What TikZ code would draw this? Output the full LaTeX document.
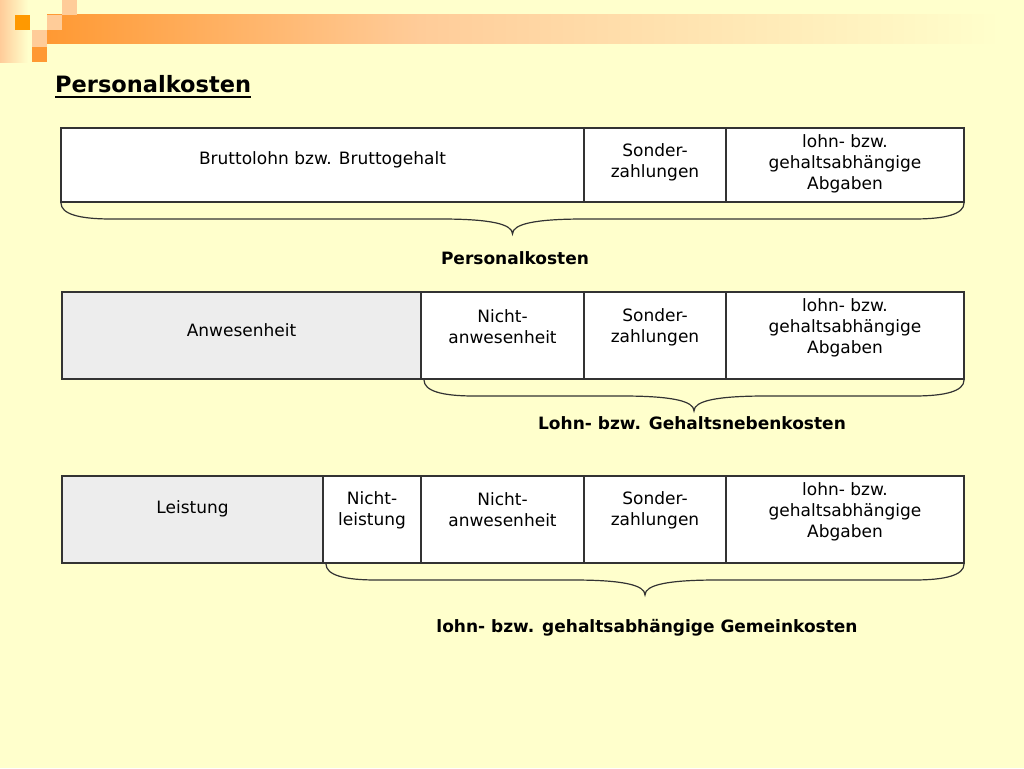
\documentclass[tikz,border=0pt]{standalone}
\usepackage{fontspec}
\setmainfont{DejaVu Sans}
\usetikzlibrary{calc,positioning}
\definecolor{pkBg}      {HTML}{FFFFCC}
\definecolor{pkOrange}  {HTML}{FF9933}
\definecolor{pkOrangeDk}{HTML}{FF9900}
\definecolor{pkOrangeLt}{HTML}{FFCC99}
\definecolor{pkGray}    {HTML}{EDEDED}
\definecolor{pkEdge}    {HTML}{333333}

\begin{document}
\begin{tikzpicture}[
  x=1pt, y=-1pt,
  feld/.style={draw=pkEdge, line width=1.1pt, fill=white, anchor=north west,
               inner sep=0pt, outer sep=0pt},
  txt/.style={align=center, font=\fontsize{17}{21}\selectfont, inner sep=0pt},
  summe/.style={font=\fontsize{17}{20}\selectfont\bfseries, inner sep=0pt},
  klammer/.style={draw=pkEdge, line width=1.2pt},
]

% ============================================================ background
\fill[pkBg] (0,0) rectangle (1024,768);
\useasboundingbox (0,0) rectangle (1024,768);

% ---- header bar
\shade[left color=pkOrangeLt, right color=pkBg] (0,0) rectangle (28,62);
\shade[left color=pkOrange, right color=pkOrangeLt] (47,15) rectangle (420,44);
\shade[left color=pkOrangeLt, right color=pkBg] (420,15) rectangle (1000,44);
\fill[pkOrangeDk] (15,15) rectangle (30,30);
\fill[pkOrangeLt] (47,15) rectangle (62,30);
\fill[pkOrangeLt] (62,0) rectangle (77,15);
\fill[pkOrangeLt] (32,30) rectangle (47,47);
\fill[pkOrange]   (32,47) rectangle (47,62);

% ---- title
\node[anchor=west, inner sep=0pt, font=\fontsize{22.5}{26}\selectfont\bfseries] (titel) at (55,84)
  {Personalkosten};
\draw[line width=2pt] ([yshift=-4pt]titel.south west) -- ([yshift=-4pt]titel.south east);

% ============================================================ ROW 1
\node[feld, minimum width=523pt, minimum height=74pt] (brutto)  at (61,128)  {};
\node[feld, minimum width=142pt, minimum height=74pt] (sonder1) at (584,128) {};
\node[feld, minimum width=238pt, minimum height=74pt] (abg1)    at (726,128) {};
\node[txt] (tBrutto)  at ([yshift=-32pt]brutto.north)  {Bruttolohn bzw. Bruttogehalt};
\node[txt] (tSonder1) at ([yshift=-34pt]sonder1.north) {Sonder-\\zahlungen};
\node[txt] (tAbg1)    at ([yshift=-36pt]abg1.north)    {lohn- bzw.\\gehaltsabhängige\\Abgaben};

% ============================================================ ROW 2
\node[feld, fill=pkGray, minimum width=359pt, minimum height=87pt] (anw) at (62,292) {};
\node[feld, minimum width=163pt, minimum height=87pt] (nanw2)   at (421,292) {};
\node[feld, minimum width=142pt, minimum height=87pt] (sonder2) at (584,292) {};
\node[feld, minimum width=238pt, minimum height=87pt] (abg2)    at (726,292) {};
\node[txt] (tAnw)     at ([yshift=-38pt]anw.north)     {Anwesenheit};
\node[txt] (tNanw2)   at ([yshift=-35pt]nanw2.north)   {Nicht-\\anwesenheit};
\node[txt] (tSonder2) at ([yshift=-35pt]sonder2.north) {Sonder-\\zahlungen};
\node[txt] (tAbg2)    at ([yshift=-36pt]abg2.north)    {lohn- bzw.\\gehaltsabhängige\\Abgaben};

% ============================================================ ROW 3
\node[feld, fill=pkGray, minimum width=261pt, minimum height=87pt] (leist) at (62,476) {};
\node[feld, minimum width=98pt,  minimum height=87pt] (nleist)  at (323,476) {};
\node[feld, minimum width=163pt, minimum height=87pt] (nanw3)   at (421,476) {};
\node[feld, minimum width=142pt, minimum height=87pt] (sonder3) at (584,476) {};
\node[feld, minimum width=238pt, minimum height=87pt] (abg3)    at (726,476) {};
\node[txt] (tLeist)   at ([yshift=-33pt]leist.north)   {Leistung};
\node[txt] (tNleist)  at ([yshift=-34pt]nleist.north)  {Nicht-\\leistung};
\node[txt] (tNanw3)   at ([yshift=-34pt]nanw3.north)   {Nicht-\\anwesenheit};
\node[txt] (tSonder3) at ([yshift=-34pt]sonder3.north) {Sonder-\\zahlungen};
\node[txt] (tAbg3)    at ([yshift=-36pt]abg3.north)    {lohn- bzw.\\gehaltsabhängige\\Abgaben};

% ============================================================ braces
\coordinate (k1a) at ([yshift=-1pt]brutto.south west);
\coordinate (k1b) at ([yshift=-1pt]abg1.south east);
\coordinate (k2a) at ([xshift=3pt,yshift=-1pt]nanw2.south west);
\coordinate (k2b) at ([yshift=-1pt]abg2.south east);
\coordinate (k3a) at ([xshift=3pt,yshift=-1pt]nleist.south west);
\coordinate (k3b) at ([yshift=-1pt]abg3.south east);
\foreach \k in {k1,k2,k3} {
  \coordinate (\k m) at ($(\k a)!.5!(\k b)$);
  \draw[klammer] (\k a) .. controls +(0,11) and +(-32,0) .. ([shift={(50,16)}]\k a)
    -- ([shift={(-72,16)}]\k m) .. controls +(50,0) and +(0,-10) .. ([shift={(0,31)}]\k m)
    .. controls +(0,-10) and +(-50,0) .. ([shift={(72,16)}]\k m)
    -- ([shift={(-50,16)}]\k b) .. controls +(32,0) and +(0,11) .. (\k b);
}

\node[summe] (sPers)   at (515,258) {Personalkosten};
\node[summe] (sNeben)  at (692,423) {Lohn- bzw. Gehaltsnebenkosten};
\node[summe] (sGemein) at (647,628) {lohn- bzw. gehaltsabhängige Gemeinkosten};

\end{tikzpicture}
\end{document}
